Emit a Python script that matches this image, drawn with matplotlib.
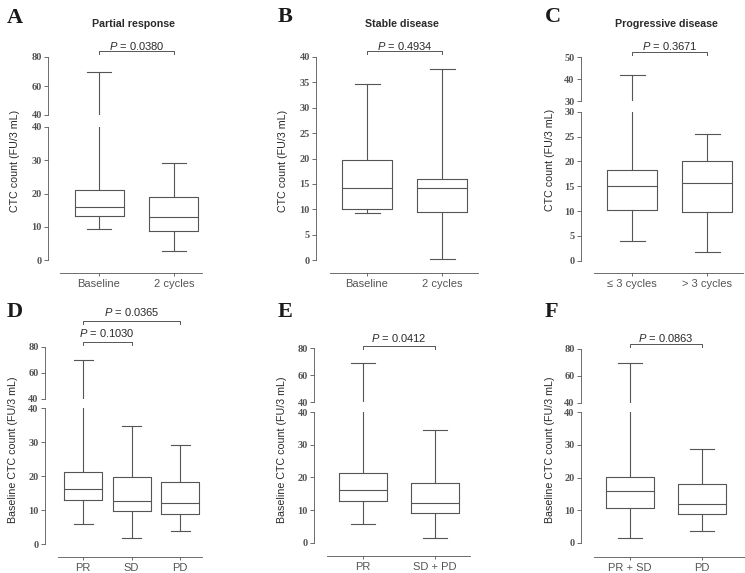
# -*- coding: utf-8 -*-
# Boxplots de contagem de CTC (seis paineis, eixos com quebra)

import matplotlib
matplotlib.use('Agg')
import matplotlib.pyplot as plt
from matplotlib.transforms import blended_transform_factory

plt.rcParams['font.family'] = ['Liberation Sans', 'DejaVu Sans']
plt.rcParams['mathtext.fontset'] = 'custom'
plt.rcParams['mathtext.it'] = 'Liberation Sans:italic'
plt.rcParams['mathtext.rm'] = 'Liberation Sans'

# Dados: [minimo, Q1, mediana, Q3, maximo]
cat_a = ['Baseline', '2 cycles']
caixas_a = [[9.4, 13.1, 15.8, 21.0, 69.7], [2.6, 8.7, 12.9, 18.9, 29.2]]
p_a = ['0.0380']

cat_b = ['Baseline', '2 cycles']
caixas_b = [[9.3, 10.0, 14.1, 19.8, 34.7], [0.2, 9.5, 14.1, 16.0, 37.6]]
p_b = ['0.4934']

cat_c = ['\u2264 3 cycles', '> 3 cycles']
caixas_c = [[3.9, 10.2, 15.0, 18.3, 42.1], [1.7, 9.8, 15.6, 20.0, 25.5]]
p_c = ['0.3671']

cat_d = ['PR', 'SD', 'PD']
caixas_d = [[5.8, 12.9, 16.2, 21.2, 69.8], [1.7, 9.6, 12.7, 19.8, 34.9],
            [3.8, 8.9, 12.1, 18.2, 29.3]]
p_d = ['0.1030', '0.0365']
pares_d = [(1, 2), (1, 3)]

cat_e = ['PR', 'SD + PD']
caixas_e = [[5.7, 12.7, 16.0, 21.2, 69.3], [1.5, 9.2, 12.0, 18.3, 34.6]]
p_e = ['0.0412']

cat_f = ['PR + SD', 'PD']
caixas_f = [[1.4, 10.7, 15.8, 20.2, 69.2], [3.6, 8.8, 11.8, 17.9, 28.8]]
p_f = ['0.0863']

titulos = ['Partial response', 'Stable disease', 'Progressive disease']
rotulo_y1 = 'CTC count (FU/3 mL)'
rotulo_y2 = 'Baseline CTC count (FU/3 mL)'

W, H = 745, 573
COR = '#555555'
COR_TXT = '#2a2a2a'
LW = 0.8

fig = plt.figure(figsize=(W / 100, H / 100), dpi=100)


def fx(x):
    return x / W


def fy(y):
    return 1 - y / H


def cria_eixo(esq, dir, topo, base):
    """Cria um eixo a partir de coordenadas em pixels"""
    return fig.add_axes([fx(esq), fy(base), fx(dir) - fx(esq), fy(topo) - fy(base)])


def estilo_y(ax, ticks):
    ax.set_yticks(ticks)
    ax.set_yticklabels([str(t) for t in ticks], fontfamily='Liberation Serif',
                       fontweight='bold', fontsize=7.5, color='#444444')
    ax.tick_params(axis='y', direction='out', length=3, width=0.6, colors=COR, pad=1.5)
    ax.spines['left'].set_color(COR)
    ax.spines['left'].set_linewidth(0.6)
    for s in ['top', 'right']:
        ax.spines[s].set_visible(False)


def desenha_caixas(ax, caixas, largura):
    stats = [dict(whislo=c[0], q1=c[1], med=c[2], q3=c[3], whishi=c[4], fliers=[])
             for c in caixas]
    props = dict(color=COR, linewidth=LW)
    ax.bxp(stats, positions=range(1, len(caixas) + 1), widths=largura,
           showfliers=False, boxprops=props, whiskerprops=props,
           capprops=props, medianprops=props)


def painel(cats, caixas, lay, pvals, pares=None):
    """Monta um painel com eixo (opcionalmente) quebrado"""
    c = lay['centros']
    n = len(cats)
    un = c[1] - c[0]
    x0 = 1 - (c[0] - lay['yax']) / un
    x1 = n + (lay['xfim'] - c[-1]) / un
    xini = 1 - (c[0] - lay['xini']) / un
    larg = lay['larg'] / un

    # segmento inferior
    vtop, ytop, yzero = lay['inf']
    esc = (yzero - ytop) / vtop
    ax = cria_eixo(lay['yax'], lay['xfim'], ytop, lay['xeixo'])
    desenha_caixas(ax, caixas, larg)
    ax.set_xlim(x0, x1)
    ax.set_ylim(-(lay['xeixo'] - yzero) / esc, vtop)
    estilo_y(ax, lay['ticks_inf'])
    ax.spines['left'].set_bounds(0, vtop)
    ax.spines['bottom'].set_bounds(xini, x1)
    ax.spines['bottom'].set_color(COR)
    ax.spines['bottom'].set_linewidth(0.6)
    ax.set_xticks(range(1, n + 1))
    ax.set_xticklabels(cats, fontsize=8, color=COR_TXT)
    ax.tick_params(axis='x', direction='out', length=2.5, width=0.6, colors=COR, pad=2)
    ax.set_xlabel('')

    # segmento superior
    ax_ref = ax
    if 'sup' in lay:
        lo, hi, yt, yb = lay['sup']
        ax2 = cria_eixo(lay['yax'], lay['xfim'], yt, yb)
        desenha_caixas(ax2, caixas, larg)
        ax2.set_xlim(x0, x1)
        ax2.set_ylim(lo, hi)
        estilo_y(ax2, lay['ticks_sup'])
        ax2.spines['bottom'].set_visible(False)
        ax2.set_xticks([])
        ax_ref = ax2

    # colchetes com P
    trans = blended_transform_factory(ax_ref.transData, fig.transFigure)
    if pares is None:
        pares = [(1, 2)]
    for (i, j), p, (yb, yl) in zip(pares, pvals, lay['colchetes']):
        ax_ref.plot([i, i, j, j], [fy(yb + 3), fy(yb), fy(yb), fy(yb + 3)],
                    transform=trans, clip_on=False, color=COR, lw=0.7)
        ax_ref.text((i + j) / 2, fy(yl), r'$P$ = ' + p, transform=trans,
                    ha='center', va='center', fontsize=8, color=COR_TXT)


lay_a = dict(yax=48, xini=60, xfim=202, xeixo=273, centros=[99, 174], larg=49,
             inf=(40, 127, 260), ticks_inf=[0, 10, 20, 30, 40],
             sup=(40, 80, 57, 115), ticks_sup=[40, 60, 80], colchetes=[(51, 46.5)])
lay_b = dict(yax=316, xini=330, xfim=478, xeixo=273, centros=[367, 442], larg=50,
             inf=(40, 57, 260), ticks_inf=[0, 5, 10, 15, 20, 25, 30, 35, 40],
             colchetes=[(51, 46)])
lay_c = dict(yax=581, xini=594, xfim=743, xeixo=273, centros=[632, 707], larg=50,
             inf=(30, 111.7, 260.7), ticks_inf=[0, 5, 10, 15, 20, 25, 30],
             sup=(30, 50, 57.3, 101.3), ticks_sup=[30, 40, 50], colchetes=[(51.5, 46)])
lay_d = dict(yax=45, xini=58, xfim=202, xeixo=557, centros=[83, 131.5, 180], larg=38,
             inf=(40, 408.3, 544), ticks_inf=[0, 10, 20, 30, 40],
             sup=(40, 80, 347, 399), ticks_sup=[40, 60, 80],
             colchetes=[(341.7, 332.7), (321, 312)])
lay_e = dict(yax=314, xini=327, xfim=470, xeixo=556, centros=[362.5, 435], larg=48,
             inf=(40, 412, 542.7), ticks_inf=[0, 10, 20, 30, 40],
             sup=(40, 80, 348.3, 402.3), ticks_sup=[40, 60, 80], colchetes=[(346, 338)])
lay_f = dict(yax=581, xini=594, xfim=745, xeixo=557, centros=[630, 702], larg=48,
             inf=(40, 412, 543), ticks_inf=[0, 10, 20, 30, 40],
             sup=(40, 80, 348.7, 402.7), ticks_sup=[40, 60, 80], colchetes=[(344, 338)])

painel(cat_a, caixas_a, lay_a, p_a)
painel(cat_b, caixas_b, lay_b, p_b)
painel(cat_c, caixas_c, lay_c, p_c)
painel(cat_d, caixas_d, lay_d, p_d, pares_d)
painel(cat_e, caixas_e, lay_e, p_e)
painel(cat_f, caixas_f, lay_f, p_f)

# titulos, letras e rotulos do eixo y
for t, x in zip(titulos, [133, 402, 666]):
    fig.text(fx(x), fy(24), t, ha='center', va='center', fontsize=7.7,
             fontweight='bold', color=COR_TXT)

for letra, (x, y) in zip('ABCDEF', [(7, 23), (278, 22), (545, 22),
                                    (7, 317), (278, 317), (545, 317)]):
    fig.text(fx(x), fy(y), letra, ha='left', va='baseline', fontsize=16,
             fontfamily='Liberation Serif', fontweight='bold', color='#1a1a1a')

for rot, (x, y) in zip([rotulo_y1] * 3 + [rotulo_y2] * 3,
                       [(15, 161), (283, 161), (550, 160),
                        (13, 450), (282, 450), (550, 450)]):
    fig.text(fx(x), fy(y), rot, ha='center', va='center', rotation=90,
             fontsize=7.7, color=COR_TXT)

fig.savefig('out.png', dpi=100, facecolor='white')
